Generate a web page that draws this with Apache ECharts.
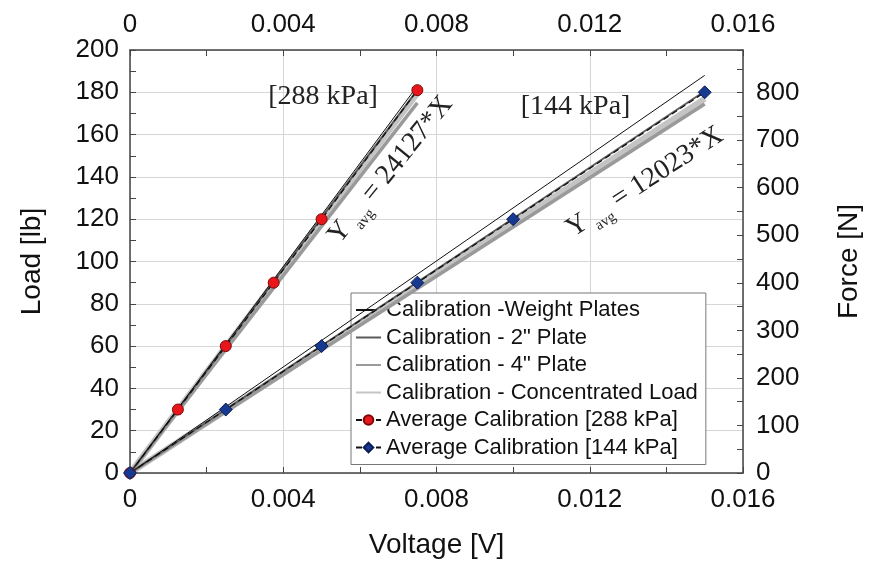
<!DOCTYPE html>
<html>
<head>
<meta charset="utf-8">
<script src="https://cdn.jsdelivr.net/npm/echarts@6/dist/echarts.min.js"></script>
<style>
html,body{margin:0;padding:0;background:#fff;}
#c{width:871px;height:567px;}
</style>
</head>
<body>
<div id="c"></div>
<script>
// ---- data ----
const volt288 = [0, 0.00125, 0.0025, 0.00375, 0.005, 0.0075];
const load288 = [0, 30, 60, 90, 120, 181];
const volt144 = [0, 0.0025, 0.005, 0.0075, 0.01, 0.015];
const load144 = [0, 30, 60, 90, 120, 180];

const calVolt288 = [0, 0.0075];
const calVolt144 = [0, 0.015];
const weightPlates288 = [0, 183];
const weightPlates144 = [0, 188];
const plate2in288 = [0, 181];
const plate2in144 = [0, 180.5];
const plate4in288 = [0, 175];
const plate4in144 = [0, 174.5];
const concLoad288 = [0, 179.5];
const concLoad144 = [0, 177];

const voltTicks = [0, 0.004, 0.008, 0.012, 0.016];
const loadMax = 200;
const lbToN = 4.4482;

const names = {
  wp: 'Calibration -Weight Plates',
  p2: 'Calibration - 2" Plate',
  p4: 'Calibration - 4" Plate',
  cl: 'Calibration - Concentrated Load',
  a288: 'Average Calibration [288 kPa]',
  a144: 'Average Calibration [144 kPa]'
};

const zip = (xs, ys) => xs.map((x, i) => [x, ys[i]]);

const chart = echarts.init(document.getElementById('c'));

const lblFont = 'Liberation Sans';
const axisColor = '#444';

function calSeries(name, xs, ys, color, width, z) {
  return {
    name: name, type: 'line', xAxisIndex: 0, yAxisIndex: 0,
    data: zip(xs, ys), symbol: 'none', z: z, silent: true,
    lineStyle: { color: color, width: width }, itemStyle: { color: color },
    animation: false
  };
}

const noSym = { color: 'transparent', borderColor: 'transparent', borderWidth: 0 };

const xAxisCommon = {
  type: 'value', min: voltTicks[0], max: voltTicks[voltTicks.length - 1], interval: 0.004,
  axisLine: { show: true, onZero: false, lineStyle: { color: axisColor, width: 1.5 } },
  axisTick: { show: true, inside: true, length: 6, lineStyle: { color: axisColor, width: 1 } },
  minorTick: { show: true, splitNumber: 2, length: 6, lineStyle: { color: axisColor, width: 1 } },
  axisLabel: { fontFamily: lblFont, fontSize: 26, color: '#111',
    formatter: v => (v === 0 ? '0' : v.toFixed(3)) }
};

const option = {
  backgroundColor: '#fff',
  animation: false,
  grid: { left: 130, right: 122, top: 50, bottom: 94 },
  legend: {
    left: 351, top: 293, orient: 'vertical', z: 1,
    backgroundColor: '#fff', borderColor: '#777', borderWidth: 1,
    padding: [6, 8, 6, 4], itemGap: 5.5, itemWidth: 25, itemHeight: 12,
    textStyle: { fontFamily: lblFont, fontSize: 22, color: '#111', lineHeight: 22 },
    data: [
      { name: names.wp, itemStyle: noSym },
      { name: names.p2, itemStyle: noSym },
      { name: names.p4, itemStyle: noSym },
      { name: names.cl, itemStyle: noSym },
      { name: names.a288 },
      { name: names.a144 }
    ]
  },
  xAxis: [
    Object.assign({}, xAxisCommon, {
      position: 'bottom',
      name: 'Voltage [V]', nameLocation: 'middle', nameGap: 58,
      nameTextStyle: { fontFamily: lblFont, fontSize: 28, color: '#111' },
      axisLabel: Object.assign({}, xAxisCommon.axisLabel, { margin: 14 }),
      splitLine: { show: true, lineStyle: { color: '#d6d6d6', width: 1 } }
    }),
    Object.assign({}, xAxisCommon, {
      position: 'top',
      axisLabel: Object.assign({}, xAxisCommon.axisLabel, { margin: 12 }),
      splitLine: { show: false }
    })
  ],
  yAxis: [
    {
      type: 'value', position: 'left', min: 0, max: loadMax, interval: 20,
      name: 'Load [lb]', nameLocation: 'middle', nameGap: 84,
      nameTextStyle: { fontFamily: lblFont, fontSize: 28, color: '#111' },
      axisLine: { show: true, onZero: false, lineStyle: { color: axisColor, width: 1.5 } },
      axisTick: { show: true, inside: true, length: 6, lineStyle: { color: axisColor } },
      minorTick: { show: true, splitNumber: 2, length: 6, lineStyle: { color: axisColor } },
      axisLabel: { fontFamily: lblFont, fontSize: 26, color: '#111', margin: 11 },
      splitLine: { show: true, lineStyle: { color: '#d6d6d6', width: 1 } }
    },
    {
      type: 'value', position: 'right', min: 0, max: loadMax * lbToN, interval: 50,
      name: 'Force [N]', nameLocation: 'middle', nameGap: 92,
      nameTextStyle: { fontFamily: lblFont, fontSize: 28, color: '#111' },
      axisLine: { show: true, onZero: false, lineStyle: { color: axisColor, width: 1.5 } },
      axisTick: { show: true, inside: true, length: 6, lineStyle: { color: axisColor } },
      axisLabel: { fontFamily: lblFont, fontSize: 26, color: '#111', margin: 13,
        formatter: v => (Math.abs(v % 100) < 1e-6 ? String(Math.round(v)) : '') },
      splitLine: { show: false }
    }
  ],
  series: [
    calSeries(names.cl, calVolt288, concLoad288, '#c4c4c4', 6, 2),
    calSeries(names.cl, calVolt144, concLoad144, '#c4c4c4', 6, 2),
    calSeries(names.p4, calVolt288, plate4in288, '#9a9a9a', 3.5, 3),
    calSeries(names.p4, calVolt144, plate4in144, '#9a9a9a', 3.5, 3),
    calSeries(names.p2, calVolt288, plate2in288, '#5a5a5a', 2, 4),
    calSeries(names.p2, calVolt144, plate2in144, '#5a5a5a', 2, 4),
    calSeries(names.wp, calVolt288, weightPlates288, '#111', 1, 5),
    calSeries(names.wp, calVolt144, weightPlates144, '#111', 1, 5),
    {
      name: names.a288, type: 'line', data: zip(volt288, load288), z: 6,
      symbol: 'circle', symbolSize: 11,
      lineStyle: { color: '#111', width: 1.3, type: [6, 4] },
      itemStyle: { color: '#e8161b', borderColor: '#7a0a0a', borderWidth: 1 }
    },
    {
      name: names.a144, type: 'line', data: zip(volt144, load144), z: 6,
      symbol: 'diamond', symbolSize: 13,
      lineStyle: { color: '#111', width: 1.3, type: [6, 4] },
      itemStyle: { color: '#17398f', borderColor: '#0a1d55', borderWidth: 1 }
    }
  ]
};

chart.setOption(option);

// ---- annotations positioned through data coordinates ----
const annot = [
  { text: '[288 kPa]', at: [0.00504, 177.8], rot: 0, eq: false },
  { text: '[144 kPa]', at: [0.01163, 173], rot: 0, eq: false },
  { text: '24127', at: [0.0068, 143.3], rot: 51, eq: true },
  { text: '12023', at: [0.01344, 137.6], rot: 33, eq: true }
];
const serif = 'Liberation Serif';
const graphics = annot.map(a => {
  const p = chart.convertToPixel({ xAxisIndex: 0, yAxisIndex: 0 }, a.at);
  const style = a.eq ? {
    text: '{m|Y}{s|avg}{m|= ' + a.text + '*X}',
    rich: {
      m: { fontFamily: serif, fontSize: 28, lineHeight: 38, verticalAlign: 'middle', fill: '#222' },
      s: { fontFamily: serif, fontSize: 15, lineHeight: 15, verticalAlign: 'bottom', padding: [0, 7, 0, 5], fill: '#222' }
    },
    align: 'center', verticalAlign: 'middle'
  } : {
    text: a.text, fontFamily: serif, fontSize: 28, fill: '#222',
    align: 'center', verticalAlign: 'middle'
  };
  return {
    type: 'text', x: p[0], y: p[1], rotation: a.rot * Math.PI / 180,
    z: 10, style: style
  };
});
chart.setOption({ graphic: graphics });
</script>
</body>
</html>
